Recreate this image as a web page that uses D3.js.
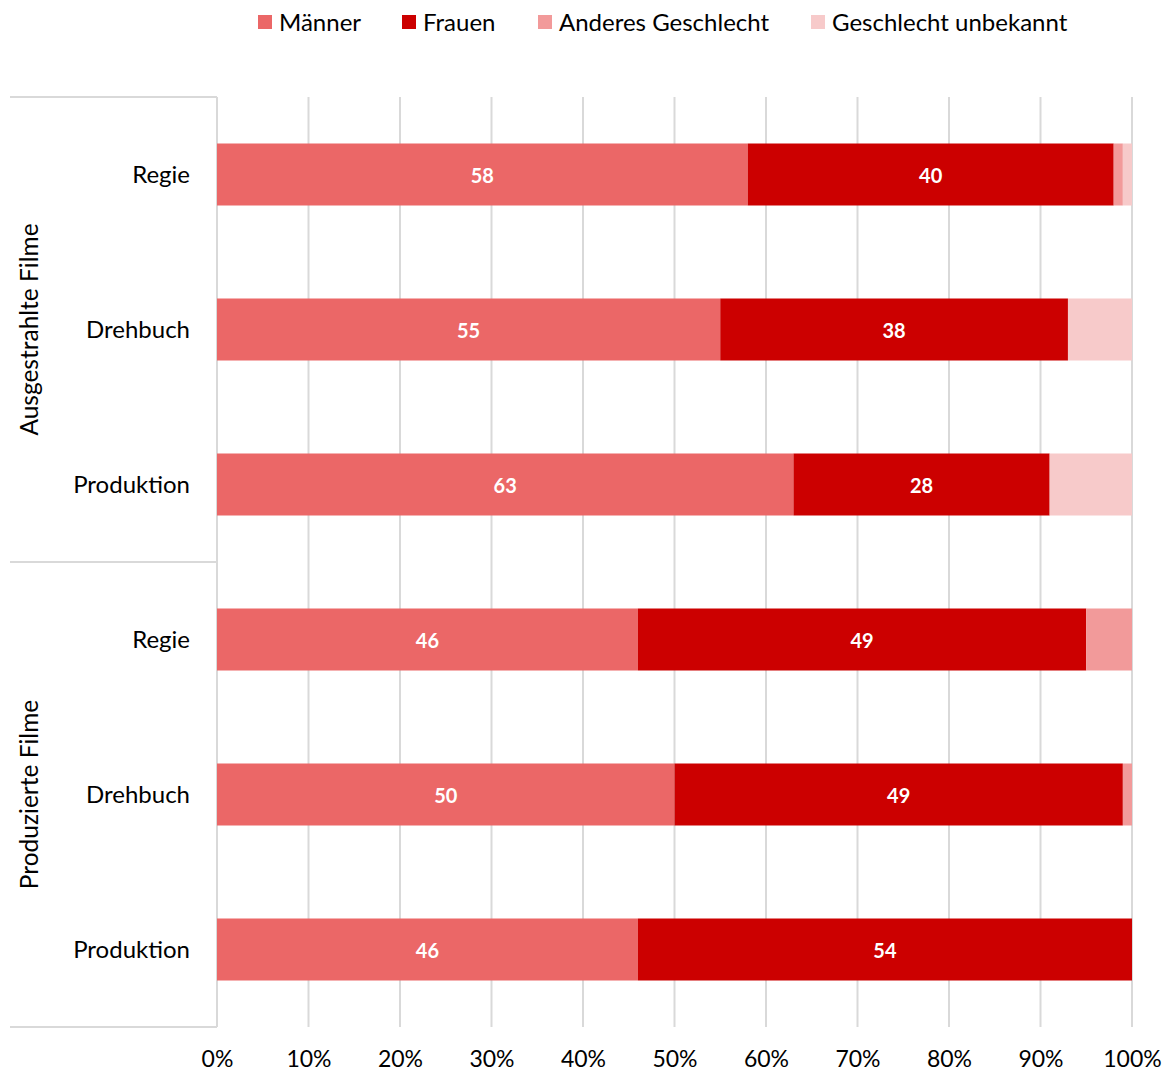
<!DOCTYPE html>
<html>
<head>
<meta charset="utf-8">
<script src="https://cdn.jsdelivr.net/npm/d3@7"></script>
<style>
  body { margin: 0; background: #fff; }
  svg { font-family: Lato, "Open Sans", sans-serif; }
</style>
</head>
<body>
<div id="chart"></div>
<script>
// categories (top to bottom) and their groups
const groups = ["Ausgestrahlte Filme", "Produzierte Filme"];
const roles = ["Regie", "Drehbuch", "Produktion"];

// shares in percent, one array per series, same order as the rows
const maenner = [58, 55, 63, 46, 50, 46];
const frauen = [40, 38, 28, 49, 49, 54];
const anderes = [1, 0, 0, 5, 1, 0];
const unbekannt = [1, 7, 9, 0, 0, 0];

const seriesNames = ["Männer", "Frauen", "Anderes Geschlecht", "Geschlecht unbekannt"];
const colors = ["#eb6767", "#cc0000", "#f29a9a", "#f7caca"];
const ticks = [0, 10, 20, 30, 40, 50, 60, 70, 80, 90, 100];

const width = 1173, height = 1073;
const plot = { left: 217, right: 1132, top: 97, bottom: 1027 };

const rows = [];
groups.forEach((g, gi) => roles.forEach((r, ri) => {
  const i = gi * roles.length + ri;
  rows.push({ key: g + "|" + r, group: g, role: r,
    "Männer": maenner[i], "Frauen": frauen[i],
    "Anderes Geschlecht": anderes[i], "Geschlecht unbekannt": unbekannt[i] });
}));

const stacked = d3.stack().keys(seriesNames)(rows);

const x = d3.scaleLinear().domain([0, 100]).range([plot.left, plot.right]);
const y = d3.scaleBand().domain(rows.map(d => d.key)).range([plot.top, plot.bottom]).paddingInner(0.6).paddingOuter(0.3);

const svg = d3.select("#chart").append("svg")
  .attr("width", width)
  .attr("height", height);

// vertical gridlines
svg.append("g")
  .selectAll("line")
  .data(ticks)
  .enter()
  .append("line")
  .attr("x1", d => x(d)).attr("x2", d => x(d))
  .attr("y1", plot.top).attr("y2", plot.bottom)
  .attr("stroke", "#d9d9d9")
  .attr("stroke-width", 2);

// group separators on the left
const groupEdges = [plot.top, plot.top + (plot.bottom - plot.top) / 2, plot.bottom];
svg.append("g")
  .selectAll("line")
  .data(groupEdges)
  .enter()
  .append("line")
  .attr("x1", 10).attr("x2", plot.left)
  .attr("y1", d => d).attr("y2", d => d)
  .attr("stroke", "#d9d9d9")
  .attr("stroke-width", 2);

// bars
svg.append("g")
  .selectAll("g")
  .data(stacked)
  .enter()
  .append("g")
  .attr("fill", (d, i) => colors[i])
  .selectAll("rect")
  .data(d => d)
  .enter()
  .append("rect")
  .attr("x", d => x(d[0]))
  .attr("y", d => y(d.data.key))
  .attr("width", d => x(d[1]) - x(d[0]))
  .attr("height", y.bandwidth());

// value labels for Männer and Frauen
svg.append("g")
  .selectAll("g")
  .data(stacked.slice(0, 2))
  .enter()
  .append("g")
  .selectAll("text")
  .data(d => d)
  .enter()
  .append("text")
  .attr("x", d => (x(d[0]) + x(d[1])) / 2)
  .attr("y", d => y(d.data.key) + y.bandwidth() / 2 + 1)
  .attr("dy", "0.36em")
  .attr("text-anchor", "middle")
  .attr("fill", "#fff")
  .attr("font-weight", "bold")
  .attr("font-size", 20)
  .text(d => d[1] - d[0]);

// category labels
svg.append("g")
  .selectAll("text")
  .data(rows)
  .enter()
  .append("text")
  .attr("x", 190)
  .attr("y", d => y(d.key) + y.bandwidth() / 2)
  .attr("dy", "0.36em")
  .attr("text-anchor", "end")
  .attr("font-size", 24)
  .attr("fill", "#000")
  .text(d => d.role);

// group labels, rotated
svg.append("g")
  .selectAll("text")
  .data(groups)
  .enter()
  .append("text")
  .attr("transform", (d, i) => `translate(38,${(groupEdges[i] + groupEdges[i + 1]) / 2}) rotate(-90)`)
  .attr("text-anchor", "middle")
  .attr("font-size", 24.5)
  .attr("fill", "#000")
  .text(d => d);

// x axis labels
const xAxis = svg.append("g")
  .attr("transform", `translate(0,${plot.bottom})`)
  .call(d3.axisBottom(x).tickValues(ticks).tickFormat(d => d + "%").tickSize(0).tickPadding(24));
xAxis.select(".domain").remove();
xAxis.selectAll("text")
  .attr("font-family", "Lato, 'Open Sans', sans-serif")
  .attr("font-size", 23)
  .attr("fill", "#000");

// legend
const legendX = [258, 402, 538, 811];
const legend = svg.append("g")
  .selectAll("g")
  .data(seriesNames)
  .enter()
  .append("g")
  .attr("transform", (d, i) => `translate(${legendX[i]},22)`);
legend.append("rect")
  .attr("x", 0).attr("y", -7)
  .attr("width", 14).attr("height", 14)
  .attr("fill", (d, i) => colors[i]);
legend.append("text")
  .attr("x", 21)
  .attr("dy", "0.36em")
  .attr("font-size", 24)
  .attr("fill", "#000")
  .text(d => d);
</script>
</body>
</html>
